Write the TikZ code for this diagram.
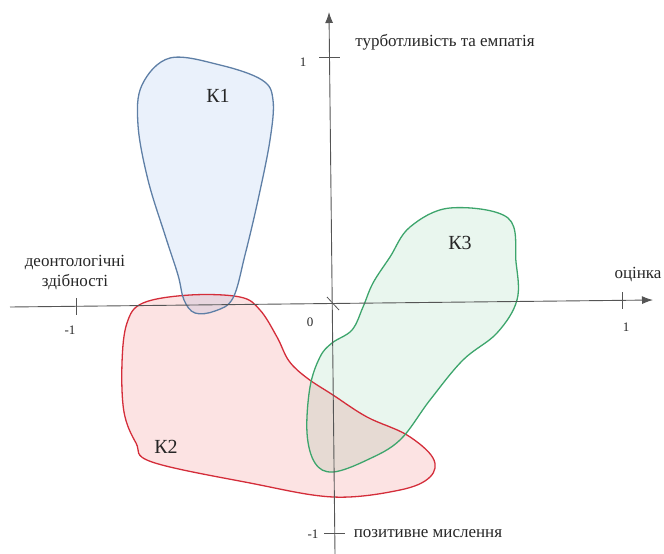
\documentclass[tikz,border=0pt]{standalone}
\usepackage{fontspec}
\setmainfont{Liberation Serif}
\usetikzlibrary{arrows.meta}
\definecolor{kaline}{HTML}{5E7FA6}
\definecolor{kafill}{HTML}{EAF1FB}
\definecolor{kbline}{HTML}{D42D3A}
\definecolor{kbfill}{HTML}{FCE3E3}
\definecolor{kcline}{HTML}{3DA56C}
\definecolor{kcfill}{HTML}{E9F6EE}
\definecolor{axiscol}{HTML}{555555}
\begin{document}
\begin{tikzpicture}[x=1pt,y=-1pt,
  axisline/.style={draw=axiscol, line width=0.9pt},
  tickline/.style={draw=axiscol, line width=0.8pt},
  lbl/.style={font=\fontsize{17}{19}\selectfont, text=black!85, inner sep=0pt},
  num/.style={font=\fontsize{13}{15}\selectfont, text=black!85, inner sep=0pt},
  klbl/.style={font=\fontsize{20}{22}\selectfont, text=black!85, inner sep=0pt},
  cluster/.style={line width=1.3pt}]
\useasboundingbox (0,0) rectangle (664,554);

% cluster fills
\begin{scope}[blend mode=multiply]
\fill[kbfill] plot[smooth cycle, tension=0.6] coordinates {(190,295) (240,297) (260,310) (277,337) (289,361) (307,378) (333,395) (367,417) (407,435) (433,458) (430,477) (400,490) (333,497) (250,483) (152,462) (136,443) (124,412) (122,363) (127,323) (143,303)};
\fill[kcfill] plot[smooth cycle, tension=0.6] coordinates {(450,208) (508,218) (516,262) (517,300) (497,333) (463,360) (430,400) (400,440) (367,460) (333,472) (315,463) (307,433) (310,387) (320,357) (332,343) (352,330) (363,307) (373,283) (390,257) (410,227)};
\fill[kafill] plot[smooth cycle, tension=0.6] coordinates {(170,58) (220,65) (262,80) (273,100) (270,140) (258,200) (245,255) (233,298) (215,311) (195,313) (184,300) (178,275) (165,235) (148,180) (138,125) (142,85)};
\end{scope}

% cluster outlines
\draw[cluster, kbline] plot[smooth cycle, tension=0.6] coordinates {(190,295) (240,297) (260,310) (277,337) (289,361) (307,378) (333,395) (367,417) (407,435) (433,458) (430,477) (400,490) (333,497) (250,483) (152,462) (136,443) (124,412) (122,363) (127,323) (143,303)};
\draw[cluster, kcline] plot[smooth cycle, tension=0.6] coordinates {(450,208) (508,218) (516,262) (517,300) (497,333) (463,360) (430,400) (400,440) (367,460) (333,472) (315,463) (307,433) (310,387) (320,357) (332,343) (352,330) (363,307) (373,283) (390,257) (410,227)};
\draw[cluster, kaline] plot[smooth cycle, tension=0.6] coordinates {(170,58) (220,65) (262,80) (273,100) (270,140) (258,200) (245,255) (233,298) (215,311) (195,313) (184,300) (178,275) (165,235) (148,180) (138,125) (142,85)};

% axes
\coordinate (xl) at (10,307);
\coordinate (xr) at (653,300);
\coordinate (yb) at (335,554);
\coordinate (yt) at (329,12);
\draw[axisline, -{Latex[length=11pt,width=8pt]}] (xl) -- (xr);
\draw[axisline, -{Latex[length=11pt,width=8pt]}] (yb) -- (yt);

% ticks
\coordinate (txm1a) at (76,298); \coordinate (txm1b) at (76,315);
\coordinate (txp1a) at (622,292); \coordinate (txp1b) at (622,309);
\coordinate (typ1a) at (319,57); \coordinate (typ1b) at (340,57);
\coordinate (tym1a) at (324,533); \coordinate (tym1b) at (345,533);
\coordinate (to1) at (327,297); \coordinate (to2) at (339,310);
\draw[tickline] (txm1a) -- (txm1b);
\draw[tickline] (txp1a) -- (txp1b);
\draw[tickline] (typ1a) -- (typ1b);
\draw[tickline] (tym1a) -- (tym1b);
\draw[tickline] (to1) -- (to2);

% numbers
\node[num] (nxm1) at (70,330) {-1};
\node[num] (nxp1) at (626,327) {1};
\node[num] (nyp1) at (303,62) {1};
\node[num] (nym1) at (313,534) {-1};
\node[num] (n0) at (310,322) {0};

% axis labels
\node[lbl] (lx) at (638,275) {оцінка};
\node[lbl, align=center] (lxl) at (75,273) {деонтологічні\\[1pt]здібності};
\node[lbl] (ly) at (445,42) {турботливість та емпатія};
\node[lbl] (lyb) at (428,534) {позитивне мислення};

% cluster labels
\node[klbl] (k1) at (218,96) {К1};
\node[klbl] (k2) at (166,447) {К2};
\node[klbl] (k3) at (460,243) {К3};
\end{tikzpicture}
\end{document}
